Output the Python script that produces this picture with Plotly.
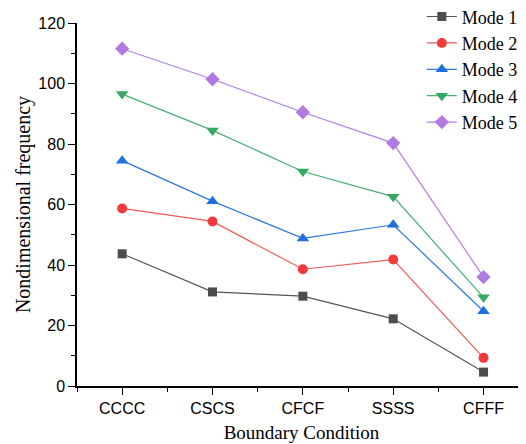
import plotly.graph_objects as go

categories = ["CCCC", "CSCS", "CFCF", "SSSS", "CFFF"]
mode1 = [43.7, 31.1, 29.7, 22.2, 4.6]
mode2 = [58.7, 54.4, 38.6, 41.8, 9.3]
mode3 = [74.5, 61.1, 48.8, 53.3, 24.7]
mode4 = [96.5, 84.5, 70.9, 62.6, 29.3]
mode5 = [111.5, 101.4, 90.5, 80.3, 36.0]
series_names = ["Mode 1", "Mode 2", "Mode 3", "Mode 4", "Mode 5"]
yticks = [0, 20, 40, 60, 80, 100, 120]

colors = ["#4d4d4d", "#f03a3c", "#1f6fe0", "#35a862", "#b07ae0"]
line_colors = ["#555555", "#f05a5a", "#2a78e4", "#45b070", "#b282e4"]
symbols = ["square", "circle", "triangle-up", "triangle-down", "diamond"]
sizes = [9, 10, 11, 11, 11]

x = list(range(len(categories)))
fig = go.Figure()
for name, ys, c, lc, s, sz in zip(series_names, [mode1, mode2, mode3, mode4, mode5],
                                  colors, line_colors, symbols, sizes):
    fig.add_trace(go.Scatter(
        x=x, y=ys, name=name, mode="lines+markers",
        line=dict(color=lc, width=1.2),
        marker=dict(symbol=s, size=sz, color=c, line=dict(width=0)),
    ))

fig.update_layout(
    width=518, height=436,
    margin=dict(l=69, r=0, t=15, b=58, autoexpand=False),
    plot_bgcolor="white", paper_bgcolor="white",
    showlegend=True,
    legend=dict(
        x=0.768, y=1.068, xanchor="left", yanchor="top",
        font=dict(family="Liberation Serif", size=18, color="black"),
        bgcolor="rgba(0,0,0,0)", tracegroupgap=0, itemwidth=30,
    ),
    font=dict(family="Liberation Sans", color="black"),
)
fig.update_xaxes(
    range=[-0.5, 4.47], tickmode="array", tickvals=x, ticktext=categories,
    showgrid=False, zeroline=False, showline=True, linecolor="black", linewidth=1.5,
    ticks="outside", ticklen=7, tickwidth=1.2, tickcolor="black", automargin=False,
    tickfont=dict(family="Liberation Sans", size=16),
    minor=dict(tick0=0.5, dtick=1, ticks="outside", ticklen=4, tickwidth=1.2, tickcolor="black", showgrid=False),
    title=dict(text="Boundary Condition", font=dict(family="Liberation Serif", size=19), standoff=10),
)
fig.update_yaxes(
    range=[0, 120], tickmode="array", tickvals=yticks,
    showgrid=False, zeroline=False, showline=True, linecolor="black", linewidth=1.5,
    ticks="outside", ticklen=7, tickwidth=1.2, tickcolor="black", automargin=False,
    tickfont=dict(family="Liberation Sans", size=16),
    minor=dict(tick0=10, dtick=20, ticks="outside", ticklen=4, tickwidth=1.2, tickcolor="black", showgrid=False),
    title=dict(text="Nondimensional frequency", font=dict(family="Liberation Serif", size=20), standoff=2),
)
fig.write_html("out.html")
